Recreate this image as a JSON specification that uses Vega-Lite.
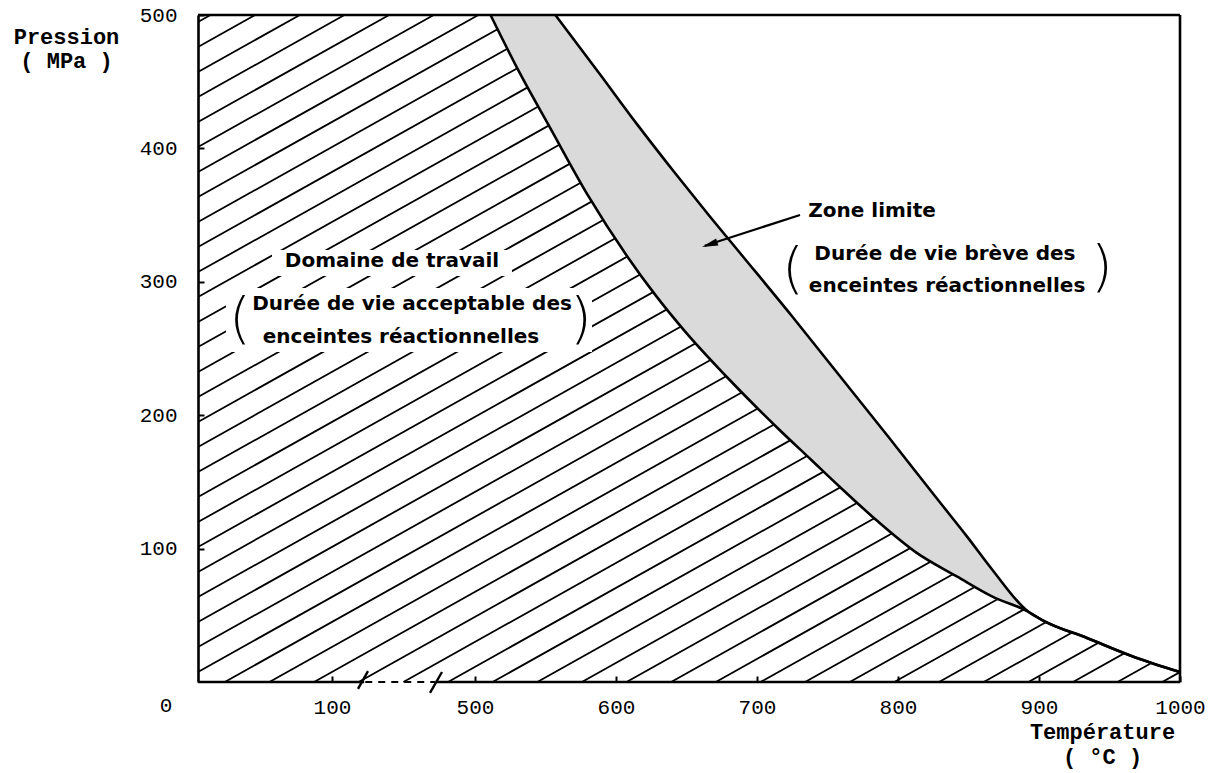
{
  "$schema": "https://vega.github.io/schema/vega-lite/v6.json",
  "width": 982,
  "height": 667,
  "autosize": "none",
  "padding": {"left": 198, "top": 15, "right": 41, "bottom": 91},
  "background": "white",
  "config": {
    "view": {"stroke": null},
    "axis": {
      "grid": false,
      "labelFont": "Liberation Mono",
      "labelFontSize": 21,
      "labelColor": "black",
      "titleFont": "Liberation Mono",
      "titleFontSize": 22,
      "titleFontWeight": "bold",
      "titleColor": "black",
      "tickColor": "black",
      "tickWidth": 2,
      "domainColor": "black",
      "domainWidth": 2.6,
      "zindex": 1,
      "labelOverlap": false,
      "labelFlush": false
    }
  },
  "datasets": {
    "hatch": [
      {"t1": 0, "p1": 494.8, "t2": 9.3, "p2": 500},
      {"t1": 0, "p1": 476.0, "t2": 42.6, "p2": 500},
      {"t1": 0, "p1": 457.3, "t2": 76.0, "p2": 500},
      {"t1": 0, "p1": 438.5, "t2": 134.7, "p2": 500},
      {"t1": 0, "p1": 419.8, "t2": 259.7, "p2": 500},
      {"t1": 0, "p1": 401.0, "t2": 384.5, "p2": 500},
      {"t1": 0, "p1": 382.3, "t2": 502.4, "p2": 500},
      {"t1": 0, "p1": 363.6, "t2": 534.0, "p2": 500},
      {"t1": 0, "p1": 344.8, "t2": 565.7, "p2": 500},
      {"t1": 0, "p1": 326.1, "t2": 597.4, "p2": 500},
      {"t1": 0, "p1": 307.3, "t2": 629.0, "p2": 500},
      {"t1": 0, "p1": 288.6, "t2": 660.7, "p2": 500},
      {"t1": 0, "p1": 269.9, "t2": 692.3, "p2": 500},
      {"t1": 0, "p1": 251.1, "t2": 724.0, "p2": 500},
      {"t1": 0, "p1": 232.4, "t2": 755.7, "p2": 500},
      {"t1": 0, "p1": 213.6, "t2": 787.3, "p2": 500},
      {"t1": 0, "p1": 194.9, "t2": 819.0, "p2": 500},
      {"t1": 0, "p1": 176.2, "t2": 850.6, "p2": 500},
      {"t1": 0, "p1": 157.4, "t2": 882.3, "p2": 500},
      {"t1": 0, "p1": 138.7, "t2": 913.9, "p2": 500},
      {"t1": 0, "p1": 119.9, "t2": 945.7, "p2": 500},
      {"t1": 0, "p1": 101.2, "t2": 977.3, "p2": 500},
      {"t1": 0, "p1": 82.5, "t2": 1000, "p2": 494.7},
      {"t1": 0, "p1": 63.7, "t2": 1000, "p2": 475.9},
      {"t1": 0, "p1": 45.0, "t2": 1000, "p2": 457.2},
      {"t1": 0, "p1": 26.2, "t2": 1000, "p2": 438.5},
      {"t1": 0, "p1": 7.5, "t2": 1000, "p2": 419.7},
      {"t1": 20.0, "p1": 0, "t2": 1000, "p2": 401.0},
      {"t1": 53.3, "p1": 0, "t2": 1000, "p2": 382.2},
      {"t1": 86.6, "p1": 0, "t2": 1000, "p2": 363.5},
      {"t1": 174.7, "p1": 0, "t2": 1000, "p2": 344.8},
      {"t1": 299.7, "p1": 0, "t2": 1000, "p2": 326.0},
      {"t1": 424.5, "p1": 0, "t2": 1000, "p2": 307.3},
      {"t1": 512.5, "p1": 0, "t2": 1000, "p2": 288.5},
      {"t1": 544.2, "p1": 0, "t2": 1000, "p2": 269.8},
      {"t1": 575.8, "p1": 0, "t2": 1000, "p2": 251.0},
      {"t1": 607.5, "p1": 0, "t2": 1000, "p2": 232.3},
      {"t1": 639.1, "p1": 0, "t2": 1000, "p2": 213.6},
      {"t1": 670.8, "p1": 0, "t2": 1000, "p2": 194.8},
      {"t1": 702.5, "p1": 0, "t2": 1000, "p2": 176.1},
      {"t1": 734.1, "p1": 0, "t2": 1000, "p2": 157.3},
      {"t1": 765.8, "p1": 0, "t2": 1000, "p2": 138.6},
      {"t1": 797.4, "p1": 0, "t2": 1000, "p2": 119.9},
      {"t1": 829.1, "p1": 0, "t2": 1000, "p2": 101.1},
      {"t1": 860.8, "p1": 0, "t2": 1000, "p2": 82.4},
      {"t1": 892.5, "p1": 0, "t2": 1000, "p2": 63.6},
      {"t1": 924.1, "p1": 0, "t2": 1000, "p2": 44.9},
      {"t1": 955.7, "p1": 0, "t2": 1000, "p2": 26.2},
      {"t1": 987.4, "p1": 0, "t2": 1000, "p2": 7.4}
    ],
    "limit": [
      {"curve": "inner", "T": 511, "P": 500},
      {"curve": "inner", "T": 532, "P": 456},
      {"curve": "inner", "T": 553, "P": 416},
      {"curve": "inner", "T": 580, "P": 365},
      {"curve": "inner", "T": 608, "P": 319},
      {"curve": "inner", "T": 628, "P": 290},
      {"curve": "inner", "T": 648, "P": 264},
      {"curve": "inner", "T": 681, "P": 226},
      {"curve": "inner", "T": 714, "P": 191},
      {"curve": "inner", "T": 738, "P": 167},
      {"curve": "inner", "T": 759, "P": 146},
      {"curve": "inner", "T": 785, "P": 121},
      {"curve": "inner", "T": 813, "P": 97},
      {"curve": "inner", "T": 842, "P": 79},
      {"curve": "inner", "T": 867, "P": 64},
      {"curve": "inner", "T": 892, "P": 53},
      {"curve": "inner", "T": 903, "P": 46},
      {"curve": "inner", "T": 934, "P": 33},
      {"curve": "inner", "T": 967, "P": 19},
      {"curve": "inner", "T": 1000, "P": 7.5},
      {"curve": "outer", "T": 557, "P": 500},
      {"curve": "outer", "T": 589, "P": 455},
      {"curve": "outer", "T": 615, "P": 418},
      {"curve": "outer", "T": 640, "P": 384},
      {"curve": "outer", "T": 665, "P": 351},
      {"curve": "outer", "T": 690, "P": 319},
      {"curve": "outer", "T": 725, "P": 274},
      {"curve": "outer", "T": 759, "P": 229},
      {"curve": "outer", "T": 793, "P": 184},
      {"curve": "outer", "T": 828, "P": 137},
      {"curve": "outer", "T": 849, "P": 109},
      {"curve": "outer", "T": 867, "P": 84},
      {"curve": "outer", "T": 892, "P": 53},
      {"curve": "outer", "T": 903, "P": 46},
      {"curve": "outer", "T": 934, "P": 33},
      {"curve": "outer", "T": 967, "P": 19},
      {"curve": "outer", "T": 1000, "P": 7.5}
    ],
    "notes": [
      {"T": 267.8, "P": 311.1, "label": "Domaine de travail"},
      {"T": 323.8, "P": 278.9, "label": "Durée de vie acceptable des"},
      {"T": 293, "P": 254.1, "label": "enceintes réactionnelles"},
      {"T": 781.6, "P": 348.5, "label": "Zone limite"},
      {"T": 833.3, "P": 316.3, "label": "Durée de vie brève des"},
      {"T": 834.8, "P": 292.4, "label": "enceintes réactionnelles"}
    ],
    "parens": [
      {"T": 31.3, "P": 271.4, "label": "("},
      {"T": 575.2, "P": 271.4, "label": ")"},
      {"T": 725.5, "P": 308.8, "label": "("},
      {"T": 944.7, "P": 310.3, "label": ")"}
    ]
  },
  "layer": [
    {
      "data": {"name": "hatch"},
      "mark": {"type": "rule", "color": "black", "strokeWidth": 1.8},
      "encoding": {
        "x": {
          "field": "t1", "type": "quantitative",
          "scale": {"domain": [0, 100, 500, 1000], "range": [0, 134, 277, 982], "nice": false, "zero": false},
          "axis": {
            "title": ["Température", "( °C )"],
            "values": [100, 500, 600, 700, 800, 900, 1000],
            "format": "d",
            "domain": false,
            "tickSize": -6,
            "labelPadding": 20,
            "titleX": 904,
            "titleY": 56,
            "titleAlign": "center",
            "titleBaseline": "alphabetic",
            "titleLineHeight": 25
          }
        },
        "x2": {"field": "t2"},
        "y": {
          "field": "p1", "type": "quantitative",
          "scale": {"domain": [0, 500], "nice": false, "zero": false},
          "axis": {
            "title": ["Pression", "( MPa )"],
            "values": [100, 200, 300, 400, 500],
            "tickSize": -6,
            "labelPadding": 27,
            "titleAngle": 0,
            "titleX": -132,
            "titleY": 28,
            "titleAlign": "center",
            "titleBaseline": "alphabetic",
            "titleLineHeight": 24,
            "encode": {"labels": {"update": {"dy": {"signal": "datum.value === 500 ? 7 : 0"}}}}
          }
        },
        "y2": {"field": "p2"}
      }
    },
    {
      "data": {"name": "limit"},
      "transform": [{"filter": "datum.curve === 'inner'"}],
      "mark": {"type": "area", "color": "#dadada", "interpolate": "monotone"},
      "encoding": {
        "x": {"field": "T", "type": "quantitative"},
        "y": {"field": "P", "type": "quantitative"},
        "y2": {"datum": 500}
      }
    },
    {
      "data": {"name": "limit"},
      "transform": [{"filter": "datum.curve === 'outer'"}],
      "mark": {"type": "area", "color": "white", "interpolate": "monotone"},
      "encoding": {
        "x": {"field": "T", "type": "quantitative"},
        "y": {"field": "P", "type": "quantitative"},
        "y2": {"datum": 500}
      }
    },
    {
      "data": {"values": [
        {"a": 55.2, "b": 526.2, "c": 304.3, "d": 323.8},
        {"a": 20.9, "b": 583.0, "c": 247.4, "d": 295.4}
      ]},
      "mark": {"type": "rect", "color": "white"},
      "encoding": {
        "x": {"field": "a", "type": "quantitative"},
        "x2": {"field": "b"},
        "y": {"field": "c", "type": "quantitative"},
        "y2": {"field": "d"}
      }
    },
    {
      "data": {"name": "limit"},
      "mark": {"type": "line", "color": "black", "strokeWidth": 2.6, "interpolate": "monotone"},
      "encoding": {
        "x": {"field": "T", "type": "quantitative"},
        "y": {"field": "P", "type": "quantitative"},
        "detail": {"field": "curve"}
      }
    },
    {
      "data": {"values": [{"a": 0, "b": 190}, {"a": 390, "b": 1000}]},
      "mark": {"type": "rule", "color": "black", "strokeWidth": 2.6},
      "encoding": {
        "x": {"field": "a", "type": "quantitative"},
        "x2": {"field": "b"},
        "y": {"datum": 0}
      }
    },
    {
      "data": {"values": [{"a": 193, "b": 388}]},
      "mark": {"type": "rule", "color": "black", "strokeWidth": 2, "strokeDash": [7, 6]},
      "encoding": {
        "x": {"field": "a", "type": "quantitative"},
        "x2": {"field": "b"},
        "y": {"datum": 0}
      }
    },
    {
      "data": {"values": [
        {"a": 172.7, "c": -5.2, "b": 200.7, "d": 8.2},
        {"a": 374.1, "c": -8.2, "b": 407.7, "d": 7.5}
      ]},
      "mark": {"type": "rule", "color": "black", "strokeWidth": 2.4},
      "encoding": {
        "x": {"field": "a", "type": "quantitative"},
        "x2": {"field": "b"},
        "y": {"field": "c", "type": "quantitative"},
        "y2": {"field": "d"}
      }
    },
    {
      "data": {"values": [{"a": 0, "b": 1000}]},
      "mark": {"type": "rule", "color": "black", "strokeWidth": 2.6},
      "encoding": {
        "x": {"field": "a", "type": "quantitative"},
        "x2": {"field": "b"},
        "y": {"datum": 500}
      }
    },
    {
      "data": {"values": [{"c": 0, "d": 500}]},
      "mark": {"type": "rule", "color": "black", "strokeWidth": 2.6},
      "encoding": {
        "x": {"datum": 1000},
        "y": {"field": "c", "type": "quantitative"},
        "y2": {"field": "d"}
      }
    },
    {
      "data": {"name": "notes"},
      "mark": {"type": "text", "font": "DejaVu Sans", "fontWeight": "bold", "fontSize": 20, "color": "black", "align": "center", "baseline": "alphabetic"},
      "encoding": {
        "x": {"field": "T", "type": "quantitative"},
        "y": {"field": "P", "type": "quantitative"},
        "text": {"field": "label"}
      }
    },
    {
      "data": {"name": "parens"},
      "mark": {"type": "text", "font": "DejaVu Sans", "fontWeight": 200, "fontSize": 56, "color": "black", "align": "center", "baseline": "middle"},
      "encoding": {
        "x": {"field": "T", "type": "quantitative"},
        "y": {"field": "P", "type": "quantitative"},
        "text": {"field": "label"}
      }
    },
    {
      "data": {"values": [{"label": "0"}]},
      "mark": {"type": "text", "font": "Liberation Mono", "fontSize": 21, "color": "black", "align": "center", "baseline": "middle", "dx": -32, "dy": 24},
      "encoding": {"x": {"datum": 0}, "y": {"datum": 0}, "text": {"field": "label"}}
    },
    {
      "data": {"values": [{"a": 730.5, "c": 350.1, "b": 663, "d": 327}]},
      "mark": {"type": "rule", "color": "black", "strokeWidth": 2.2},
      "encoding": {
        "x": {"field": "a", "type": "quantitative"},
        "x2": {"field": "b"},
        "y": {"field": "c", "type": "quantitative"},
        "y2": {"field": "d"}
      }
    },
    {
      "data": {"values": [{"a": 666.4, "c": 328}]},
      "mark": {"type": "point", "shape": "M0,-1L0.45,1L-0.45,1Z", "filled": true, "color": "black", "size": 256, "angle": 252, "opacity": 1},
      "encoding": {
        "x": {"field": "a", "type": "quantitative"},
        "y": {"field": "c", "type": "quantitative"}
      }
    }
  ]
}
